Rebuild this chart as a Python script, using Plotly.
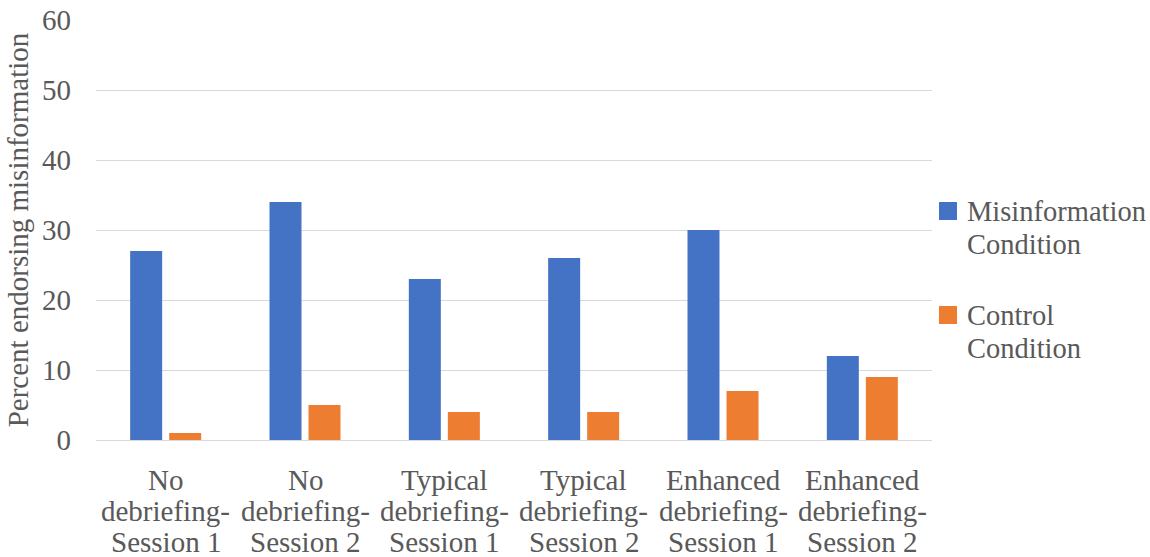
import plotly.graph_objects as go

categories = [
    "No<br>debriefing-<br>Session 1",
    "No<br>debriefing-<br>Session 2",
    "Typical<br>debriefing-<br>Session 1",
    "Typical<br>debriefing-<br>Session 2",
    "Enhanced<br>debriefing-<br>Session 1",
    "Enhanced<br>debriefing-<br>Session 2",
]
misinformation = [27, 34, 23, 26, 30, 12]
control = [1, 5, 4, 4, 7, 9]

series_names = ["Misinformation<br>Condition", "Control<br>Condition"]
colors = ["#4472C4", "#ED7D31"]

FONT = "Liberation Serif"
TEXT_COLOR = "#595959"
FONT_SIZE = 29

# plot area geometry in pixels
PLOT_LEFT, PLOT_RIGHT, PLOT_TOP, PLOT_BOTTOM = 96, 932, 20, 440
PLOT_H = PLOT_BOTTOM - PLOT_TOP


def paper_y(py):
    return (PLOT_BOTTOM - py) / PLOT_H


fig = go.Figure()
for name, vals, col in zip(series_names, [misinformation, control], colors):
    fig.add_trace(go.Bar(
        x=categories, y=vals, name=name, marker_color=col,
        marker_line_width=0,
    ))

# multi-line category labels with tight line spacing
LINE_START, LINE_STEP = 40, 31
for cat in categories:
    for j, line in enumerate(cat.split("<br>")):
        fig.add_annotation(
            x=cat, xref="x", y=0, yref="paper", yanchor="middle",
            yshift=-(LINE_START + j * LINE_STEP), showarrow=False, text=line,
            font=dict(family=FONT, size=FONT_SIZE, color=TEXT_COLOR),
        )

# legend on the right: square swatch + two-line label per series
LEG_FIRST_Y, LEG_ENTRY_STEP, LEG_LINE_STEP = 211, 104, 33
for k, (name, col) in enumerate(zip(series_names, colors)):
    row_y = LEG_FIRST_Y + k * LEG_ENTRY_STEP
    fig.add_shape(
        type="rect", xref="paper", yref="paper",
        xsizemode="pixel", ysizemode="pixel",
        xanchor=1, x0=7, x1=25, yanchor=paper_y(row_y), y0=-9, y1=9,
        fillcolor=col, line_width=0,
    )
    for j, line in enumerate(name.split("<br>")):
        fig.add_annotation(
            x=1, xref="paper", xshift=33, xanchor="left",
            y=paper_y(row_y + j * LEG_LINE_STEP), yref="paper", yanchor="middle",
            showarrow=False, text=line,
            font=dict(family=FONT, size=28.5, color=TEXT_COLOR),
        )

fig.update_layout(
    width=1150, height=557,
    margin=dict(l=PLOT_LEFT, r=1150 - PLOT_RIGHT, t=PLOT_TOP, b=557 - PLOT_BOTTOM),
    paper_bgcolor="white", plot_bgcolor="white",
    font=dict(family=FONT, size=FONT_SIZE, color=TEXT_COLOR),
    barmode="group", bargap=0.44, bargroupgap=0.18,
    showlegend=False,
    xaxis=dict(
        showgrid=False, showline=False, ticks="", showticklabels=False,
        automargin=False, fixedrange=True,
    ),
    yaxis=dict(
        range=[0, 60], dtick=10, showgrid=True, gridcolor="#D9D9D9",
        gridwidth=1, zeroline=True, zerolinecolor="#D9D9D9", zerolinewidth=1,
        showline=False, ticks="", automargin=False,
        tickfont=dict(family=FONT, size=FONT_SIZE, color=TEXT_COLOR),
        ticklabelstandoff=24,
        title=dict(text="Percent endorsing misinformation",
                   font=dict(family=FONT, size=FONT_SIZE, color=TEXT_COLOR), standoff=4),
    ),
)

fig.write_html("out.html")
